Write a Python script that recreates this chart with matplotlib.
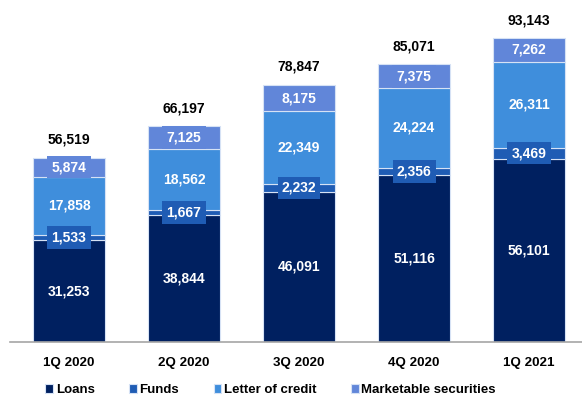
import matplotlib.pyplot as plt
import numpy as np

quarters = ["1Q 2020", "2Q 2020", "3Q 2020", "4Q 2020", "1Q 2021"]
loans = [31253, 38844, 46091, 51116, 56101]
funds = [1533, 1667, 2232, 2356, 3469]
letter_of_credit = [17858, 18562, 22349, 24224, 26311]
marketable = [5874, 7125, 8175, 7375, 7262]
totals = [56519, 66197, 78847, 85071, 93143]

series = [
    ("Loans", loans, "#002060", False),
    ("Funds", funds, "#1F5CB4", True),
    ("Letter of credit", letter_of_credit, "#3F8EDC", False),
    ("Marketable securities", marketable, "#6186D9", True),
]

plt.rcParams["font.family"] = ["Liberation Sans", "DejaVu Sans"]

fig = plt.figure(figsize=(5.82, 3.98), dpi=100)
ax = fig.add_axes([10 / 582, 56 / 398, 572 / 582, 342 / 398])

x = np.arange(len(quarters))
bottom = np.zeros(len(quarters))
handles = []

for name, vals, color, boxed in series:
    vals = np.array(vals)
    bars = ax.bar(x, vals, width=0.63, bottom=bottom, color=color,
                  edgecolor="#D6E2F5", linewidth=0.8, label=name)
    handles.append(bars)
    for xi, b, v in zip(x, bottom, vals):
        kw = {}
        if boxed:
            kw["bbox"] = dict(boxstyle="square,pad=0.3", facecolor=color,
                              edgecolor="none")
        ax.text(xi, b + v / 2, f"{v:,}", ha="center", va="center",
                color="white", fontsize=10, fontweight="bold", **kw)
    bottom = bottom + vals

# totals above each stack
for xi, t in zip(x, totals):
    ax.text(xi, t + 3300, f"{t:,}", ha="center", va="bottom",
            color="black", fontsize=10, fontweight="bold")

ax.set_xlim(-0.513, 4.46)
ax.set_ylim(0, 104800)
ax.set_yticks([])
ax.set_xticks(x)
ax.set_xticklabels(quarters, fontsize=9.6, fontweight="bold")
ax.tick_params(axis="x", length=0, pad=11)
for side in ["top", "right", "left"]:
    ax.spines[side].set_visible(False)
ax.spines["bottom"].set_color("#A6A6A6")
ax.spines["bottom"].set_linewidth(1.2)

fig.legend(handles=handles, loc="center", bbox_to_anchor=(0.465, 0.02),
           ncol=4, frameon=False, handlelength=0.6, handleheight=0.6,
           handletextpad=0.2, columnspacing=2.6,
           prop={"weight": "bold", "size": 9.5})

fig.savefig("out.png", dpi=100)
